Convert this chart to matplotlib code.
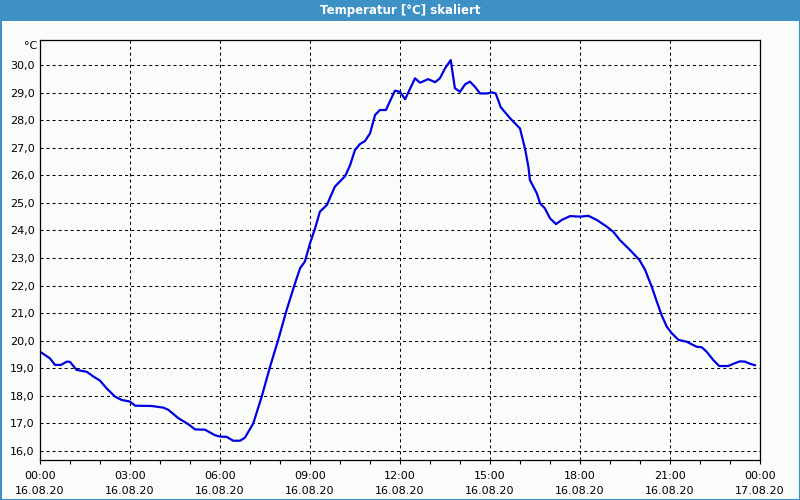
import matplotlib
matplotlib.use("Agg")
import matplotlib.pyplot as plt
from matplotlib.patches import Rectangle
from matplotlib.ticker import MultipleLocator

# hours since 16.08.20 00:00 and temperature in degC
hours = [0.0, 0.33, 0.5, 0.7, 0.89, 1.0, 1.22, 1.56, 1.78, 2.0, 2.22, 2.5, 2.72,
         3.0, 3.17, 3.72, 4.11, 4.28, 4.61, 4.94, 5.17, 5.5, 5.83, 6.0, 6.22,
         6.44, 6.67, 6.83, 7.11, 7.39, 7.67, 7.94, 8.22, 8.5, 8.67, 8.83, 9.0,
         9.17, 9.33, 9.56, 9.83, 10.17, 10.33, 10.5, 10.67, 10.83, 11.0, 11.17,
         11.33, 11.53, 11.83, 12.0, 12.17, 12.5, 12.67, 12.94, 13.17, 13.33,
         13.5, 13.69, 13.83, 14.0, 14.17, 14.33, 14.5, 14.67, 14.89, 15.06,
         15.19, 15.36, 15.67, 16.0, 16.17, 16.28, 16.33, 16.56, 16.67, 16.83,
         17.0, 17.2, 17.39, 17.67, 18.0, 18.28, 18.56, 18.89, 19.11, 19.33,
         19.64, 19.98, 20.17, 20.39, 20.56, 20.72, 20.89, 21.06, 21.28, 21.56,
         21.72, 21.89, 22.06, 22.22, 22.44, 22.64, 22.94, 23.11, 23.33, 23.5,
         23.67, 23.83]
temps = [19.6, 19.36, 19.12, 19.12, 19.24, 19.23, 18.94, 18.87, 18.70, 18.55,
         18.27, 17.97, 17.85, 17.79, 17.64, 17.63, 17.57, 17.49, 17.19, 16.97,
         16.78, 16.77, 16.57, 16.52, 16.51, 16.37, 16.37, 16.48, 17.0, 17.97,
         19.06, 20.03, 21.11, 22.08, 22.63, 22.87, 23.53, 24.08, 24.68, 24.92,
         25.59, 25.97, 26.35, 26.92, 27.14, 27.24, 27.52, 28.19, 28.37, 28.37,
         29.07, 29.03, 28.76, 29.52, 29.36, 29.49, 29.38, 29.52, 29.88, 30.18,
         29.16, 29.03, 29.30, 29.40, 29.21, 28.97, 28.97, 29.01, 28.97, 28.47,
         28.07, 27.70, 26.95, 26.31, 25.83, 25.35, 24.98, 24.80, 24.44, 24.23,
         24.38, 24.52, 24.50, 24.53, 24.38, 24.14, 23.95, 23.65, 23.32, 22.93,
         22.57, 21.96, 21.42, 20.93, 20.51, 20.27, 20.03, 19.96, 19.87, 19.78,
         19.76, 19.60, 19.30, 19.08, 19.08, 19.16, 19.25, 19.24, 19.16, 19.11]

tick_hours = [0, 3, 6, 9, 12, 15, 18, 21, 24]
tick_labels = ["00:00\n16.08.20", "03:00\n16.08.20", "06:00\n16.08.20",
               "09:00\n16.08.20", "12:00\n16.08.20", "15:00\n16.08.20",
               "18:00\n16.08.20", "21:00\n16.08.20", "00:00\n17.08.20"]
y_ticks = list(range(16, 31))

bg = "#fafcfa"
bar_blue = "#3d91c5"

fig = plt.figure(figsize=(8, 5), dpi=100, facecolor=bg)

# title bar and window frame
fig.patches.append(Rectangle((0, 1 - 21 / 500), 1, 21 / 500, transform=fig.transFigure,
                             facecolor=bar_blue, edgecolor="none", zorder=0))
fig.patches.append(Rectangle((0.5 / 800, 0.5 / 500), 1 - 1 / 800, 1 - 1 / 500,
                             transform=fig.transFigure, facecolor="none",
                             edgecolor=bar_blue, linewidth=1.5, zorder=1))
fig.text(0.5, 1 - 10.5 / 500, "Temperatur [°C] skaliert", color="white",
         fontsize=8.5, fontweight="bold", ha="center", va="center")

ax = fig.add_axes([40 / 800, 40 / 500, 720 / 800, 420 / 500])
ax.set_facecolor(bg)
ax.plot(hours, temps, color="#0000e0", linewidth=1.6)

ax.set_xlim(0, 24)
ax.set_ylim(15.67, 30.91)
ax.set_xticks(tick_hours)
ax.set_xticklabels(tick_labels, fontsize=8, linespacing=1.55)
ax.xaxis.set_minor_locator(MultipleLocator(1))
ax.set_yticks(y_ticks)
ax.set_yticklabels([("%.1f" % v).replace(".", ",") for v in y_ticks], fontsize=8)

ax.tick_params(axis="x", which="both", direction="out", length=3, width=0.8,
               pad=5, colors="black")
ax.tick_params(axis="y", length=0, pad=4)

ax.grid(True, which="major", color="black", linewidth=0.75, dashes=(2.9, 2.9))

for s in ax.spines.values():
    s.set_color("black")
    s.set_linewidth(0.9)

fig.text(37 / 800, 1 - 46 / 500, "°C", fontsize=8, ha="right", va="center")

fig.savefig("out.png", dpi=100, facecolor=bg)
